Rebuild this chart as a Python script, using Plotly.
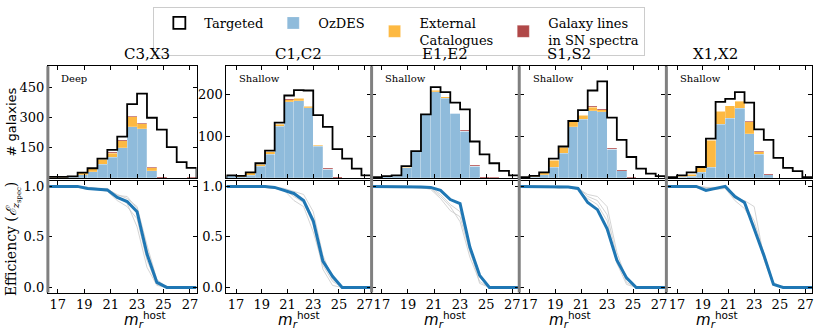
import plotly.graph_objects as go
from plotly.subplots import make_subplots

# Felder und Tiefe
fields = ["C3,X3", "C1,C2", "E1,E2", "S1,S2", "X1,X2"]
depths = ["Deep", "Shallow", "Shallow", "Shallow", "Shallow"]

# Magnituden-Bins (Kanten), Breite 0.75
mag_edges = [16.25, 17.0, 17.75, 18.5, 19.25, 20.0, 20.75, 21.5, 22.25,
             23.0, 23.75, 24.5, 25.25, 26.0, 26.75, 27.5]

# Anzahl Galaxien pro Bin
targeted_c3x3 = [5, 5, 8, 26, 48, 96, 140, 206, 368, 420, 300, 241, 153, 79, 50]
ozdes_c3x3 = [0, 0, 3, 16, 30, 68, 104, 150, 256, 244, 35, 0, 0, 0, 0]
external_c3x3 = [3, 3, 5, 10, 15, 24, 20, 36, 49, 25, 15, 0, 0, 0, 0]
snlines_c3x3 = [1, 1, 1, 0, 0, 0, 4, 4, 3, 3, 2, 5, 1, 1, 2]

targeted_c1c2 = [6, 5, 13, 35, 65, 132, 197, 210, 209, 150, 122, 69, 46, 22, 6]
ozdes_c1c2 = [5, 3, 6, 28, 57, 124, 182, 185, 168, 76, 21, 0, 0, 0, 0]
external_c1c2 = [1, 2, 6, 5, 6, 4, 5, 5, 3, 2, 0, 0, 0, 0, 0]
snlines_c1c2 = [0, 0, 0, 0, 0, 2, 2, 0, 0, 1, 2, 3, 0, 0, 0]

targeted_e1e2 = [2, 4, 6, 28, 64, 152, 217, 205, 180, 164, 87, 56, 35, 17, 6]
ozdes_e1e2 = [1, 3, 4, 24, 62, 152, 206, 191, 154, 112, 28, 0, 0, 0, 0]
external_e1e2 = [0, 1, 1, 2, 3, 0, 3, 3, 0, 0, 0, 0, 0, 0, 0]
snlines_e1e2 = [0, 0, 0, 0, 0, 0, 0, 0, 0, 2, 2, 3, 1, 0, 0]

targeted_s1s2 = [2, 5, 13, 46, 75, 136, 162, 209, 231, 144, 91, 50, 22, 10, 4]
ozdes_s1s2 = [1, 2, 7, 26, 59, 122, 140, 161, 158, 69, 17, 0, 0, 0, 0]
external_s1s2 = [1, 2, 5, 16, 14, 13, 10, 8, 5, 0, 0, 0, 0, 0, 0]
snlines_s1s2 = [0, 0, 0, 0, 0, 0, 0, 2, 2, 2, 2, 2, 0, 0, 0]

targeted_x1x2 = [2, 6, 13, 26, 94, 182, 189, 205, 180, 116, 91, 48, 24, 16, 2]
ozdes_x1x2 = [0, 1, 4, 14, 26, 128, 142, 166, 105, 57, 8, 0, 0, 0, 0]
external_x1x2 = [1, 3, 5, 10, 64, 31, 31, 17, 29, 6, 0, 0, 0, 0, 0]
snlines_x1x2 = [0, 0, 0, 0, 0, 0, 0, 2, 1, 1, 2, 0, 0, 0, 0]

# Effizienz an den Bin-Kanten
eff_c3x3 = [1, 1, 1, 1, 0.98, 0.975, 0.965, 0.89, 0.85, 0.75, 0.33, 0.05, 0, 0, 0, 0]
eff_c1c2 = [1, 1, 1, 1, 1, 0.99, 0.96, 0.93, 0.86, 0.66, 0.26, 0.11, 0, 0, 0, 0]
eff_e1e2 = [1, 1, 1, 1, 1, 0.995, 0.99, 0.96, 0.87, 0.83, 0.40, 0.12, 0, 0, 0, 0]
eff_s1s2 = [1, 1, 1, 1, 1, 0.995, 0.98, 0.84, 0.77, 0.58, 0.27, 0.095, 0, 0, 0, 0]
eff_x1x2 = [1, 1, 1, 1, 0.96, 0.98, 1.0, 0.90, 0.84, 0.58, 0.32, 0.03, 0, 0, 0, 0]

# einzelne Felder (duenne graue Linien)
single_c3x3 = [
    [1, 1, 1, 1, 0.99, 0.98, 0.97, 0.92, 0.88, 0.80, 0.42, 0.08, 0, 0, 0, 0],
    [1, 1, 1, 1, 0.98, 0.97, 0.95, 0.86, 0.80, 0.68, 0.27, 0.03, 0, 0, 0, 0],
    [1, 1, 1, 0.99, 0.97, 0.97, 0.96, 0.90, 0.83, 0.60, 0.20, 0.02, 0, 0, 0, 0],
    [1, 1, 1, 1, 0.99, 0.98, 0.98, 0.91, 0.90, 0.78, 0.38, 0.06, 0, 0, 0, 0],
]
single_c1c2 = [
    [1, 1, 1, 1, 0.99, 0.98, 0.96, 0.86, 0.80, 0.55, 0.22, 0.06, 0, 0, 0, 0],
    [1, 1, 1, 1, 1, 0.99, 0.98, 0.95, 0.92, 0.75, 0.32, 0.08, 0, 0, 0, 0],
    [1, 1, 1, 1, 0.99, 0.98, 0.97, 0.90, 0.84, 0.62, 0.18, 0.02, 0, 0, 0, 0],
]
single_e1e2 = [
    [1, 1, 1, 1, 0.99, 0.98, 0.98, 0.90, 0.80, 0.65, 0.30, 0.06, 0, 0, 0, 0],
    [1, 1, 1, 1, 1, 0.99, 0.97, 0.88, 0.76, 0.70, 0.35, 0.10, 0, 0, 0, 0],
    [1, 1, 1, 1, 1, 0.99, 0.99, 0.92, 0.82, 0.75, 0.38, 0.04, 0, 0, 0, 0],
]
single_s1s2 = [
    [1, 1, 1, 1, 0.99, 0.99, 0.98, 0.92, 0.90, 0.80, 0.35, 0.08, 0, 0, 0, 0],
    [1, 1, 1, 1, 1, 0.99, 0.99, 0.90, 0.86, 0.72, 0.30, 0.05, 0, 0, 0, 0],
    [1, 1, 1, 1, 0.98, 0.99, 0.97, 0.88, 0.82, 0.66, 0.24, 0.03, 0, 0, 0, 0],
]
single_x1x2 = [
    [1, 1, 1, 1, 0.99, 0.99, 0.99, 0.88, 0.86, 0.80, 0.30, 0.04, 0, 0, 0, 0],
    [1, 1, 1, 1, 0.98, 0.97, 0.98, 0.86, 0.78, 0.62, 0.28, 0.02, 0, 0, 0, 0],
    [1, 1, 1, 1, 0.99, 0.98, 0.99, 0.92, 0.82, 0.66, 0.34, 0.05, 0, 0, 0, 0],
]

x_ticks = [17, 19, 21, 23, 25, 27]

targeted = [targeted_c3x3, targeted_c1c2, targeted_e1e2, targeted_s1s2, targeted_x1x2]
ozdes = [ozdes_c3x3, ozdes_c1c2, ozdes_e1e2, ozdes_s1s2, ozdes_x1x2]
external = [external_c3x3, external_c1c2, external_e1e2, external_s1s2, external_x1x2]
snlines = [snlines_c3x3, snlines_c1c2, snlines_e1e2, snlines_s1s2, snlines_x1x2]
eff = [eff_c3x3, eff_c1c2, eff_e1e2, eff_s1s2, eff_x1x2]
single = [single_c3x3, single_c1c2, single_e1e2, single_s1s2, single_x1x2]

W, H = 822, 336
SERIF = "DejaVu Serif"
BLUE = "#8fbbdb"
ORANGE = "#fdb942"
RED = "#b04848"

# Position der Panels in Pixeln (links, rechts)
cols_px = [(48, 197), (227, 372), (373, 520), (521, 667), (669, 814)]
top_px = (65, 178)
bot_px = (181.5, 294)


def px_x(a, b):
    return [a / W, b / W]


def px_y(a, b):
    return [1 - b / H, 1 - a / H]


def plot_all():
    fig = make_subplots(rows=2, cols=5)
    centers = [(mag_edges[i] + mag_edges[i + 1]) / 2 for i in range(len(mag_edges) - 1)]
    bw = mag_edges[1] - mag_edges[0]

    for c in range(5):
        first = c == 0
        # gestapelte Histogramme
        for vals, name, col in [(ozdes[c], "OzDES", BLUE),
                                (external[c], "External<br>Catalogues", ORANGE),
                                (snlines[c], "Galaxy lines<br>in SN spectra", RED)]:
            fig.add_trace(go.Bar(x=centers, y=vals, width=bw, name=name,
                                 marker=dict(color=col, line=dict(color="rgba(255,255,255,0.35)", width=0.6)),
                                 legendgroup=name, showlegend=first, legendrank=2),
                          row=1, col=c + 1)
        # Targeted als Stufenlinie
        sx = [mag_edges[0]] + mag_edges
        sy = [0] + targeted[c] + [0]
        fig.add_trace(go.Scatter(x=sx, y=sy, mode="lines", line_shape="hv",
                                 line=dict(color="black", width=1.8),
                                 showlegend=False, hoverinfo="skip"),
                      row=1, col=c + 1)
        if first:
            fig.add_trace(go.Bar(x=[None], y=[None], name="Targeted",
                                 marker=dict(color="white", line=dict(color="black", width=1.8)),
                                 legendrank=1),
                          row=1, col=1)

        # Effizienz
        for s in single[c]:
            fig.add_trace(go.Scatter(x=mag_edges, y=s, mode="lines",
                                     line=dict(color="#c9c9c9", width=0.8),
                                     showlegend=False, hoverinfo="skip"),
                          row=2, col=c + 1)
        fig.add_trace(go.Scatter(x=mag_edges, y=eff[c], mode="lines",
                                 line=dict(color="#1f77b4", width=3),
                                 showlegend=False),
                      row=2, col=c + 1)

    axis_style = dict(showline=True, linecolor="black", linewidth=1, mirror="ticks",
                      ticks="inside", ticklen=4, tickcolor="black", showgrid=False,
                      zeroline=False, tickfont=dict(family=SERIF, size=13, color="black"))

    for c in range(5):
        xd = px_x(*cols_px[c])
        t = c + 1
        b = c + 6
        fig.update_layout(**{
            ("xaxis" if t == 1 else f"xaxis{t}"): dict(
                domain=xd, range=[16.25, 27.5], tickvals=x_ticks, showticklabels=False, **axis_style),
            f"xaxis{b}": dict(
                domain=xd, range=[16.25, 27.5], tickvals=x_ticks, **axis_style),
            ("yaxis" if t == 1 else f"yaxis{t}"): dict(
                domain=px_y(*top_px),
                range=[0, 557] if c == 0 else [0, 267],
                tickvals=[150, 300, 450] if c == 0 else [100, 200],
                showticklabels=c < 2, **axis_style),
            f"yaxis{b}": dict(
                domain=px_y(*bot_px), range=[-0.05, 1.05], tickvals=[0, 0.5, 1],
                ticktext=["0.0", "0.5", "1.0"], showticklabels=c < 2, **axis_style),
        })

    ann = []
    for c in range(5):
        a, b = cols_px[c]
        ann.append(dict(x=(a + b) / 2 / W, y=1 - 53 / H, xref="paper", yref="paper",
                        text=fields[c], showarrow=False, yanchor="middle",
                        font=dict(family=SERIF, size=15, color="black")))
        ann.append(dict(x=(a + 11) / W, y=1 - 77 / H, xref="paper", yref="paper",
                        text=depths[c], showarrow=False, xanchor="left", yanchor="middle",
                        font=dict(family=SERIF, size=10, color="black")))
        ann.append(dict(x=(a + b) / 2 / W, y=1 - 321 / H, xref="paper", yref="paper",
                        text="<i>m</i><sub><i>r</i></sub><sup>host</sup>", showarrow=False,
                        yanchor="middle",
                        font=dict(family="DejaVu Sans", size=15, color="black")))
    ann.append(dict(x=12 / W, y=1 - 121 / H, xref="paper", yref="paper",
                    text="# galaxies", showarrow=False, textangle=-90,
                    xanchor="center", yanchor="middle",
                    font=dict(family="DejaVu Sans", size=13, color="black")))
    ann.append(dict(x=13 / W, y=1 - 240 / H, xref="paper", yref="paper",
                    text="Efficiency (<i>ℰ</i><sub><i>z</i><sub>spec</sub></sub>)",
                    showarrow=False, textangle=-90, xanchor="center", yanchor="middle",
                    font=dict(family=SERIF, size=14, color="black")))

    # graue Doppelkanten zwischen den Panels
    shapes = []
    for xp in [48, 372.5, 520.5, 668]:
        shapes.append(dict(type="line", xref="paper", yref="paper",
                           x0=xp / W, x1=xp / W, y0=1 - bot_px[1] / H, y1=1 - top_px[0] / H,
                           line=dict(color="#808080", width=3)))

    fig.update_layout(
        width=W, height=H, margin=dict(l=0, r=0, t=0, b=0),
        barmode="stack", plot_bgcolor="white", paper_bgcolor="white",
        annotations=ann, shapes=shapes,
        legend=dict(orientation="h", x=0.487, xanchor="center", y=1 - 5 / H, yanchor="top",
                    bordercolor="#cccccc", borderwidth=1, itemwidth=40,
                    font=dict(family=SERIF, size=13, color="black"),
                    traceorder="normal"),
    )
    return fig


if __name__ == "__main__":
    fig = plot_all()
    # Seitenrand des Browsers entfernen
    fig.write_html("out.html", config={"displayModeBar": False},
                   post_script="document.body.style.margin='0px';")
